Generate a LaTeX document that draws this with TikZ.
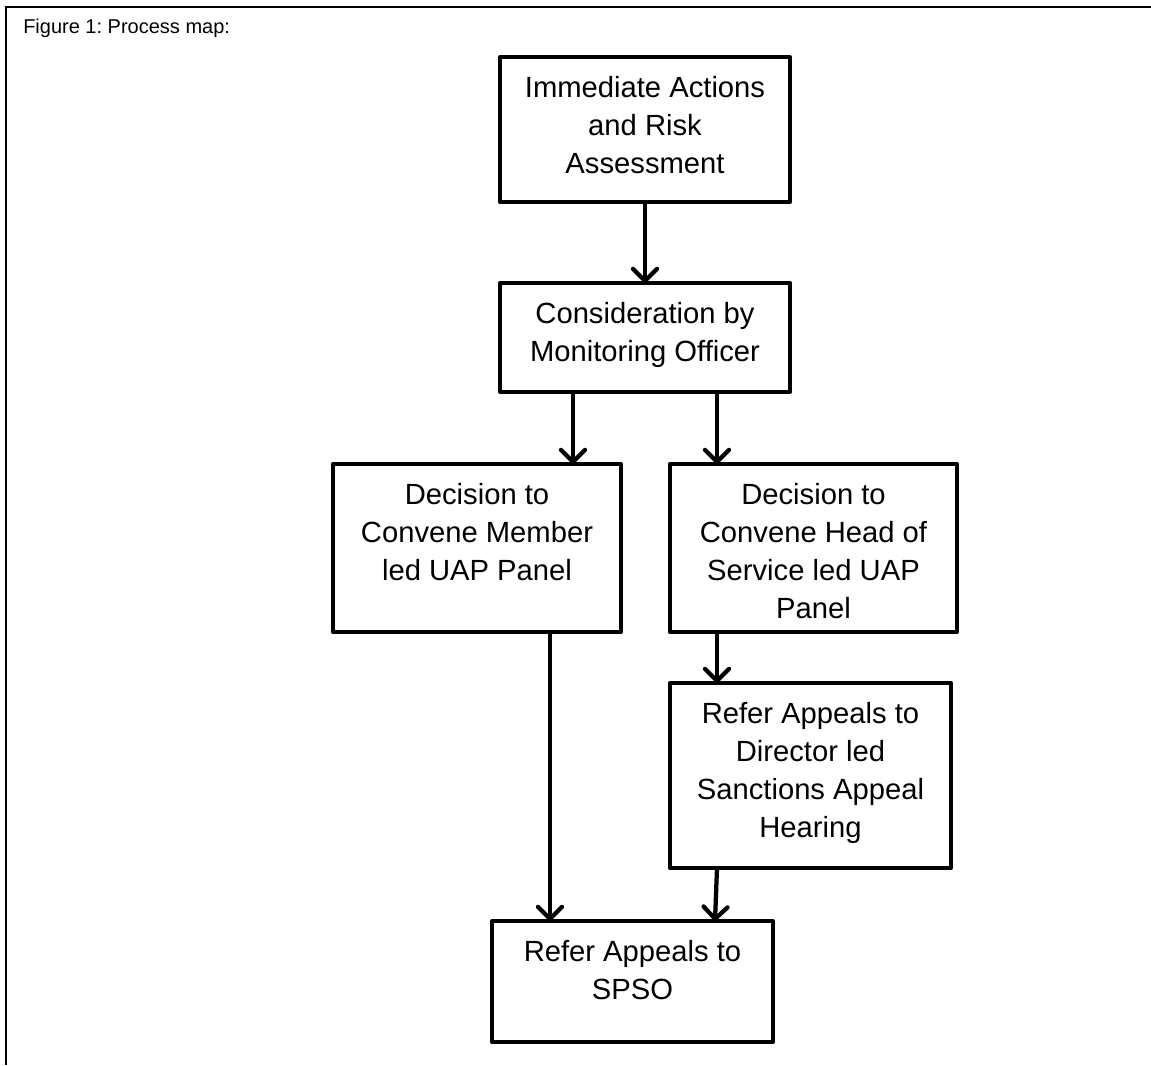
\documentclass[tikz,border=0pt]{standalone}
\usepackage{fontspec}
\setmainfont{Liberation Sans}
\usetikzlibrary{arrows.meta}
\frenchspacing
\newcommand{\boxtxt}[3]{\parbox[c][#2][t]{#1}{\centering\rule{0pt}{30pt}#3}}
\begin{document}
\begin{tikzpicture}[x=0.75pt,y=-0.75pt,
  box/.style={draw, line width=3pt, inner sep=0pt, outer sep=0pt, line join=round,
    font=\fontsize{21.9}{28.5}\selectfont},
  arr/.style={line width=3.2pt, -{Straight Barb[length=9pt,width=18pt,round]}},
  frameline/.style={line width=1.6pt},
  titletext/.style={font=\fontsize{15}{18}\selectfont, inner sep=0pt}]
\useasboundingbox (0,0) rectangle (1151,1065);
% frame
\draw[frameline] (1151,7) -- (6,7) -- (6,1065);
\node[titletext, anchor=base west] (title) at (23,33) {Figure 1: Process map:};
% boxes
\node[box] (b1) at (645,129.5) {\boxtxt{217.5pt}{108.75pt}{Immediate Actions\\and Risk\\Assessment}};
\node[box] (b2) at (645,337.5) {\boxtxt{217.5pt}{81.75pt}{Consideration by\\Monitoring Officer}};
\node[box] (b3) at (477,548) {\boxtxt{216pt}{126pt}{Decision to\\Convene Member\\led UAP Panel}};
\node[box] (b4) at (813.5,548) {\boxtxt{215.25pt}{126pt}{Decision to\\Convene Head of\\Service led UAP\\Panel}};
\node[box] (b5) at (810.5,775.5) {\boxtxt{210.75pt}{138.75pt}{Refer Appeals to\\Director led\\Sanctions Appeal\\Hearing}};
\node[box] (b6) at (632.5,981.5) {\boxtxt{210.75pt}{90.75pt}{Refer Appeals to\\SPSO}};
% helper x positions
\coordinate (xa) at (573,0);
\coordinate (xb) at (717,0);
\coordinate (xc) at (550,0);
\coordinate (xd) at (715,0);
% connectors
\draw[arr] (b1.south) -- (b2.north);
\draw[arr] (b2.south -| xa) -- (b3.north -| xa);
\draw[arr] (b2.south -| xb) -- (b4.north -| xb);
\draw[arr] (b4.south -| xb) -- (b5.north -| xb);
\draw[arr] (b3.south -| xc) -- (b6.north -| xc);
\draw[arr] (b5.south -| xb) -- (b6.north -| xd);
\end{tikzpicture}
\end{document}
